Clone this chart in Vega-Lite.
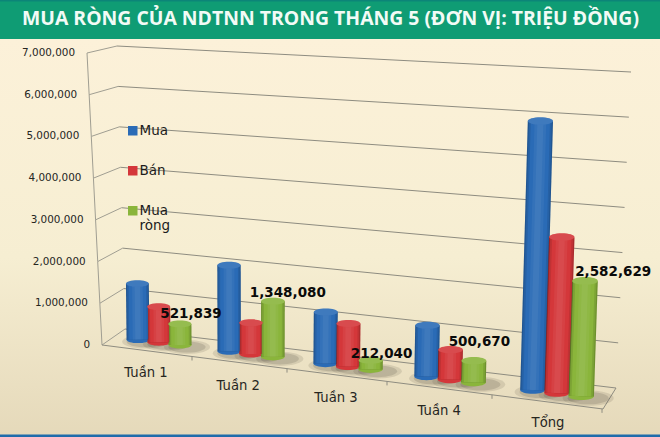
{
"$schema":"https://vega.github.io/schema/vega-lite/v6.json",
"width":660,"height":437,"padding":0,"autosize":{"type":"none"},
"background":"#f6edd3",
"config":{"view":{"stroke":null}},
"title":{"text":"MUA RÒNG CỦA NDTNN TRONG THÁNG 5 (ĐƠN VỊ: TRIỆU ĐỒNG)","font":"Open Sans","fontWeight":"bold","fontSize":19.4,"color":"#f2fbf6","anchor":"start","dx":22,"offset":-29,"zindex":5},
"datasets":{
"bars":[
{"tuan":"Tuần 1","series":"Mua","value":1410000},
{"tuan":"Tuần 1","series":"Bán","value":888000},
{"tuan":"Tuần 1","series":"Mua ròng","value":521839},
{"tuan":"Tuần 2","series":"Mua","value":2110000},
{"tuan":"Tuần 2","series":"Bán","value":762000},
{"tuan":"Tuần 2","series":"Mua ròng","value":1348080},
{"tuan":"Tuần 3","series":"Mua","value":1230000},
{"tuan":"Tuần 3","series":"Bán","value":1018000},
{"tuan":"Tuần 3","series":"Mua ròng","value":212040},
{"tuan":"Tuần 4","series":"Mua","value":1190000},
{"tuan":"Tuần 4","series":"Bán","value":689000},
{"tuan":"Tuần 4","series":"Mua ròng","value":500670},
{"tuan":"Tổng","series":"Mua","value":6100000},
{"tuan":"Tổng","series":"Bán","value":3517371},
{"tuan":"Tổng","series":"Mua ròng","value":2582629}
],
"grid":[{"value":0},{"value":1000000},{"value":2000000},{"value":3000000},{"value":4000000},{"value":5000000},{"value":6000000},{"value":7000000}]
},
"layer":[
{"data":{"values":[{"part":"page"}]},
 "mark":{"type":"rect","fill":{"x1":0,"y1":0,"x2":0,"y2":1,"gradient":"linear","stops":[{"offset":0,"color":"#fcf1d9"},{"offset":0.55,"color":"#f6eed2"},{"offset":1,"color":"#e5d9ba"}]}},
 "encoding":{"x":{"datum":0,"type":"quantitative","scale":{"domain":[0,660],"nice":false,"zero":false},"axis":null},"x2":{"datum":660},"y":{"datum":39,"type":"quantitative","scale":{"domain":[437,0],"nice":false,"zero":false},"axis":null},"y2":{"datum":437}}},
{"data":{"values":[{"part":"header"}]},
 "mark":{"type":"rect","fill":"#0f9c74"},
 "encoding":{"x":{"datum":0,"type":"quantitative","scale":{"domain":[0,660],"nice":false,"zero":false},"axis":null},"x2":{"datum":660},"y":{"datum":0,"type":"quantitative","scale":{"domain":[437,0],"nice":false,"zero":false},"axis":null},"y2":{"datum":39}}},
{"data":{"values":[{"part":"headerEdge"}]},
 "mark":{"type":"rect","fill":"#0c8578"},
 "encoding":{"x":{"datum":0,"type":"quantitative","scale":{"domain":[0,660],"nice":false,"zero":false},"axis":null},"x2":{"datum":660},"y":{"datum":0,"type":"quantitative","scale":{"domain":[437,0],"nice":false,"zero":false},"axis":null},"y2":{"datum":1.5}}},
{"data":{"values":[{"part":"footer"}]},
 "mark":{"type":"rect","fill":"#1f6cab"},
 "encoding":{"x":{"datum":0,"type":"quantitative","scale":{"domain":[0,660],"nice":false,"zero":false},"axis":null},"x2":{"datum":660},"y":{"datum":434.5,"type":"quantitative","scale":{"domain":[437,0],"nice":false,"zero":false},"axis":null},"y2":{"datum":437}}},
{"data":{"name":"grid"},
 "transform":[
 {"calculate":"datum.value/7000000","as":"f"},
 {"calculate":"102-15*datum.f","as":"xf"},
 {"calculate":"345-292*datum.f","as":"yf"},
 {"calculate":"125-8*datum.f","as":"xb"},
 {"calculate":"329-283*datum.f","as":"yb"},
 {"calculate":"616+15*datum.f","as":"xr"},
 {"calculate":"388-316*datum.f","as":"yr"}
 ],
 "layer":[
 {"mark":{"type":"rule","color":"#8e8c80","strokeWidth":1},
  "encoding":{"x":{"field":"xb","type":"quantitative","scale":{"domain":[0,660],"nice":false,"zero":false},"axis":null},"x2":{"field":"xr"},"y":{"field":"yb","type":"quantitative","scale":{"domain":[437,0],"nice":false,"zero":false},"axis":null},"y2":{"field":"yr"}}},
 {"mark":{"type":"rule","color":"#a09e92","strokeWidth":1},
  "encoding":{"x":{"field":"xf","type":"quantitative","scale":{"domain":[0,660],"nice":false,"zero":false},"axis":null},"x2":{"field":"xb"},"y":{"field":"yf","type":"quantitative","scale":{"domain":[437,0],"nice":false,"zero":false},"axis":null},"y2":{"field":"yb"}}},
 {"mark":{"type":"line","color":"#a09e92","strokeWidth":1},
  "encoding":{"x":{"field":"xf","type":"quantitative","scale":{"domain":[0,660],"nice":false,"zero":false},"axis":null},"y":{"field":"yf","type":"quantitative","scale":{"domain":[437,0],"nice":false,"zero":false},"axis":null},"order":{"field":"value"}}},
 {"mark":{"type":"text","font":"DejaVu Sans","fontSize":10.4,"align":"right","baseline":"middle","dx":-12,"color":"#26261f"},
  "encoding":{"x":{"field":"xf","type":"quantitative","scale":{"domain":[0,660],"nice":false,"zero":false},"axis":null},"y":{"field":"yf","type":"quantitative","scale":{"domain":[437,0],"nice":false,"zero":false},"axis":null},"text":{"field":"value","type":"quantitative","format":","}}},
 {"transform":[{"filter":"datum.value==0"},{"calculate":"603","as":"xc"},{"calculate":"409","as":"yc"}],
  "mark":{"type":"rule","color":"#8e8c80","strokeWidth":1},
  "encoding":{"x":{"field":"xf","type":"quantitative","scale":{"domain":[0,660],"nice":false,"zero":false},"axis":null},"x2":{"field":"xc"},"y":{"field":"yf","type":"quantitative","scale":{"domain":[437,0],"nice":false,"zero":false},"axis":null},"y2":{"field":"yc"}}},
 {"transform":[{"filter":"datum.value==0"},{"calculate":"603","as":"xc"},{"calculate":"409","as":"yc"}],
  "mark":{"type":"rule","color":"#8e8c80","strokeWidth":1},
  "encoding":{"x":{"field":"xr","type":"quantitative","scale":{"domain":[0,660],"nice":false,"zero":false},"axis":null},"x2":{"field":"xc"},"y":{"field":"yr","type":"quantitative","scale":{"domain":[437,0],"nice":false,"zero":false},"axis":null},"y2":{"field":"yc"}}}
 ]},
{"data":{"name":"bars"},
 "transform":[
 {"calculate":"indexof(['Tuần 1','Tuần 2','Tuần 3','Tuần 4','Tổng'],datum.tuan)","as":"g"},
 {"calculate":"indexof(['Mua','Bán','Mua ròng'],datum.series)","as":"s"},
 {"calculate":"159+89.5*datum.g+2.5*datum.g*datum.g","as":"cx"},
 {"calculate":"datum.cx+(datum.s-1)*(21+0.8*datum.g)","as":"bx"},
 {"calculate":"345+(datum.bx-180)*0.1275","as":"by"},
 {"calculate":"datum.value*(39.5+(datum.bx-115)*0.011)/1000000","as":"h"},
 {"calculate":"datum.by-datum.h","as":"ty"},
 {"calculate":"datum.bx+datum.h*(datum.bx-250)*0.0001","as":"tx"},
 {"calculate":"22+datum.bx*0.006","as":"w"},
 {"calculate":"datum.w*datum.w","as":"w2"},
 {"calculate":"datum.w*0.9","as":"w9"},
 {"calculate":"datum.w*0.76","as":"wm"},
 {"calculate":"datum.w*0.46","as":"wh"},
 {"calculate":"datum.w*0.24","as":"wi"},
 {"calculate":"datum.bx+7","as":"sx"},
 {"calculate":"datum.by+2","as":"sy"},
 {"calculate":"datum.w2*4","as":"s1"},
 {"calculate":"datum.w2*2.6","as":"s2"}
 ],
 "layer":[
 {"mark":{"type":"point","filled":true,"opacity":0.14,"fill":"#4d4a3c","shape":"M-1,0A1,0.3,0,1,1,1,0A1,0.3,0,1,1,-1,0Z"},
  "encoding":{"x":{"field":"sx","type":"quantitative","scale":{"domain":[0,660],"nice":false,"zero":false},"axis":null},"y":{"field":"sy","type":"quantitative","scale":{"domain":[437,0],"nice":false,"zero":false},"axis":null},"size":{"field":"s1","type":"quantitative","scale":null,"legend":null}}},
 {"mark":{"type":"point","filled":true,"opacity":0.18,"fill":"#4d4a3c","shape":"M-1,0A1,0.3,0,1,1,1,0A1,0.3,0,1,1,-1,0Z"},
  "encoding":{"x":{"field":"sx","type":"quantitative","scale":{"domain":[0,660],"nice":false,"zero":false},"axis":null},"y":{"field":"sy","type":"quantitative","scale":{"domain":[437,0],"nice":false,"zero":false},"axis":null},"size":{"field":"s2","type":"quantitative","scale":null,"legend":null}}},
 {"mark":{"type":"point","filled":true,"opacity":1,"shape":"M-1,0A1,0.3,0,1,1,1,0A1,0.3,0,1,1,-1,0Z"},
  "encoding":{"x":{"field":"bx","type":"quantitative","scale":{"domain":[0,660],"nice":false,"zero":false},"axis":null},"y":{"field":"by","type":"quantitative","scale":{"domain":[437,0],"nice":false,"zero":false},"axis":null},"size":{"field":"w2","type":"quantitative","scale":null,"legend":null},
  "color":{"field":"series","type":"nominal","scale":{"domain":["Mua","Bán","Mua ròng"],"range":["#2a6bb6","#d4373a","#8ab53b"]},"legend":{"orient":"none","legendX":126,"legendY":124,"title":null,"symbolType":"square","symbolSize":64,"labelFont":"DejaVu Sans","labelFontSize":13.5,"labelColor":"#1c1c1c","rowPadding":25,"labelExpr":"datum.label=='Mua ròng'?['Mua','ròng']:datum.label","labelOffset":0,"encode":{"labels":{"update":{"lineHeight":{"value":18}}}}}}}},
 {"mark":{"type":"rule"},
  "encoding":{"x":{"field":"bx","type":"quantitative","scale":{"domain":[0,660],"nice":false,"zero":false},"axis":null},"x2":{"field":"tx"},"y":{"field":"by","type":"quantitative","scale":{"domain":[437,0],"nice":false,"zero":false},"axis":null},"y2":{"field":"ty"},"size":{"field":"w","type":"quantitative","scale":null,"legend":null},
  "color":{"field":"series","type":"nominal","legend":null}}},
 {"mark":{"type":"rule","color":"#000000","opacity":0.2},
  "encoding":{"x":{"field":"bx","type":"quantitative","scale":{"domain":[0,660],"nice":false,"zero":false},"axis":null},"x2":{"field":"tx"},"y":{"field":"by","type":"quantitative","scale":{"domain":[437,0],"nice":false,"zero":false},"axis":null},"y2":{"field":"ty"},"size":{"field":"w","type":"quantitative","scale":null,"legend":null}}},
 {"mark":{"type":"rule"},
  "encoding":{"x":{"field":"bx","type":"quantitative","scale":{"domain":[0,660],"nice":false,"zero":false},"axis":null},"x2":{"field":"tx"},"y":{"field":"by","type":"quantitative","scale":{"domain":[437,0],"nice":false,"zero":false},"axis":null},"y2":{"field":"ty"},"size":{"field":"w9","type":"quantitative","scale":null,"legend":null},
  "color":{"field":"series","type":"nominal","legend":null}}},
 {"mark":{"type":"rule","color":"#000000","opacity":0.09},
  "encoding":{"x":{"field":"bx","type":"quantitative","scale":{"domain":[0,660],"nice":false,"zero":false},"axis":null},"x2":{"field":"tx"},"y":{"field":"by","type":"quantitative","scale":{"domain":[437,0],"nice":false,"zero":false},"axis":null},"y2":{"field":"ty"},"size":{"field":"w9","type":"quantitative","scale":null,"legend":null}}},
 {"mark":{"type":"rule"},
  "encoding":{"x":{"field":"bx","type":"quantitative","scale":{"domain":[0,660],"nice":false,"zero":false},"axis":null},"x2":{"field":"tx"},"y":{"field":"by","type":"quantitative","scale":{"domain":[437,0],"nice":false,"zero":false},"axis":null},"y2":{"field":"ty"},"size":{"field":"wm","type":"quantitative","scale":null,"legend":null},
  "color":{"field":"series","type":"nominal","legend":null}}},
 {"mark":{"type":"rule","color":"#ffffff","opacity":0.05},
  "encoding":{"x":{"field":"bx","type":"quantitative","scale":{"domain":[0,660],"nice":false,"zero":false},"axis":null},"x2":{"field":"tx"},"y":{"field":"by","type":"quantitative","scale":{"domain":[437,0],"nice":false,"zero":false},"axis":null},"y2":{"field":"ty"},"size":{"field":"wh","type":"quantitative","scale":null,"legend":null}}},
 {"mark":{"type":"rule","color":"#ffffff","opacity":0.05},
  "encoding":{"x":{"field":"bx","type":"quantitative","scale":{"domain":[0,660],"nice":false,"zero":false},"axis":null},"x2":{"field":"tx"},"y":{"field":"by","type":"quantitative","scale":{"domain":[437,0],"nice":false,"zero":false},"axis":null},"y2":{"field":"ty"},"size":{"field":"wi","type":"quantitative","scale":null,"legend":null}}},
 {"mark":{"type":"point","filled":true,"opacity":1,"shape":"M-1,0A1,0.3,0,1,1,1,0A1,0.3,0,1,1,-1,0Z"},
  "encoding":{"x":{"field":"tx","type":"quantitative","scale":{"domain":[0,660],"nice":false,"zero":false},"axis":null},"y":{"field":"ty","type":"quantitative","scale":{"domain":[437,0],"nice":false,"zero":false},"axis":null},"size":{"field":"w2","type":"quantitative","scale":null,"legend":null},
  "color":{"field":"series","type":"nominal","legend":null}}},
 {"mark":{"type":"point","filled":true,"opacity":0.1,"fill":"#ffffff","shape":"M-1,0A1,0.3,0,1,1,1,0A1,0.3,0,1,1,-1,0Z"},
  "encoding":{"x":{"field":"tx","type":"quantitative","scale":{"domain":[0,660],"nice":false,"zero":false},"axis":null},"y":{"field":"ty","type":"quantitative","scale":{"domain":[437,0],"nice":false,"zero":false},"axis":null},"size":{"field":"w2","type":"quantitative","scale":null,"legend":null}}},
 {"transform":[{"filter":"datum.series=='Mua ròng'"},{"calculate":"datum.bx+[11,15,11,6,32][datum.g]","as":"lx"},{"calculate":"datum.ty+[-10,-8,-6,-19,-9][datum.g]","as":"ly"}],
  "mark":{"type":"text","font":"DejaVu Sans","fontWeight":"bold","fontSize":13.5,"color":"#0a0a0a","align":"center","baseline":"middle"},
  "encoding":{"x":{"field":"lx","type":"quantitative","scale":{"domain":[0,660],"nice":false,"zero":false},"axis":null},"y":{"field":"ly","type":"quantitative","scale":{"domain":[437,0],"nice":false,"zero":false},"axis":null},"text":{"field":"value","type":"quantitative","format":","}}},
 {"transform":[{"filter":"datum.series=='Mua'"},{"calculate":"datum.cx-13+0.25*datum.g*datum.g","as":"cxl"},{"calculate":"373+12.6*datum.g","as":"cyl"}],
  "mark":{"type":"text","font":"DejaVu Sans","fontSize":13.2,"color":"#26261f","align":"center","baseline":"middle"},
  "encoding":{"x":{"field":"cxl","type":"quantitative","scale":{"domain":[0,660],"nice":false,"zero":false},"axis":null},"y":{"field":"cyl","type":"quantitative","scale":{"domain":[437,0],"nice":false,"zero":false},"axis":null},"text":{"field":"tuan","type":"nominal"}}},
 {"transform":[{"filter":"datum.series=='Mua'"},{"calculate":"192+92.5*datum.g+2.5*datum.g*datum.g","as":"tkx"},{"calculate":"345+(datum.tkx-102)*0.1277","as":"tky"},{"calculate":"datum.tky+4","as":"tky2"}],
  "mark":{"type":"rule","color":"#8e8c80","strokeWidth":1},
  "encoding":{"x":{"field":"tkx","type":"quantitative","scale":{"domain":[0,660],"nice":false,"zero":false},"axis":null},"y":{"field":"tky","type":"quantitative","scale":{"domain":[437,0],"nice":false,"zero":false},"axis":null},"y2":{"field":"tky2"}}}
 ]}
]}
